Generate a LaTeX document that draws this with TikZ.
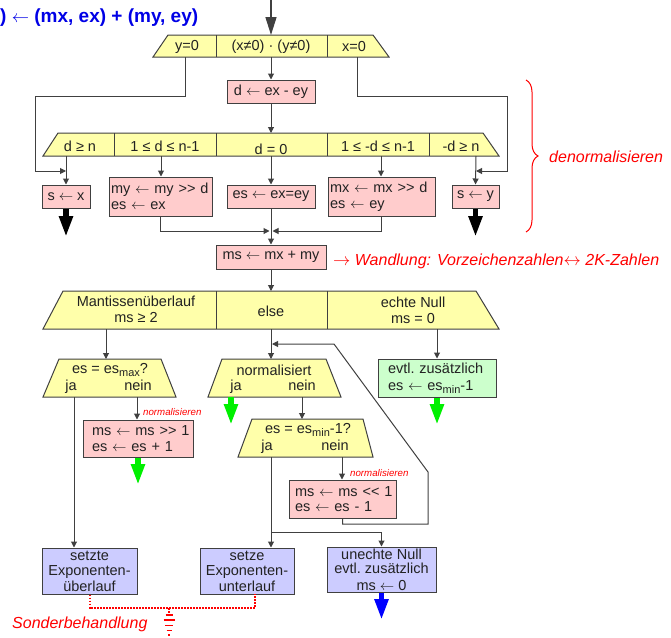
\documentclass[tikz,border=0pt]{standalone}
\usepackage{fontspec}
\setmainfont{Liberation Sans}
\usetikzlibrary{arrows.meta,decorations.pathreplacing}

\definecolor{cellyellow}{RGB}{255,255,170}
\definecolor{boxpink}{RGB}{255,204,204}
\definecolor{boxgreen}{RGB}{204,255,204}
\definecolor{boxblue}{RGB}{204,204,255}
\definecolor{edge}{RGB}{64,64,64}
\definecolor{ink}{RGB}{34,34,34}
\definecolor{notered}{RGB}{255,0,0}
\definecolor{titleblue}{RGB}{0,0,230}
\definecolor{flowgreen}{RGB}{0,240,0}
\definecolor{flowblue}{RGB}{0,0,255}

\newcommand{\boxfont}{\fontsize{14.5}{15.5}\selectfont}
\newcommand{\gtgt}{\mbox{>}\mbox{>}}
\newcommand{\ltlt}{\mbox{<}\mbox{<}}
\newcommand{\lar}{\ensuremath{\leftarrow}}
\newcommand{\rar}{\ensuremath{\rightarrow}}
\newcommand{\lrar}{\ensuremath{\leftrightarrow}}
\newcommand{\subidx}[1]{\raisebox{-3pt}{\fontsize{11}{11}\selectfont #1}}

\begin{document}
\begin{tikzpicture}[x=1pt,y=-1pt,
  conn/.style={draw=edge,line width=1pt},
  arr/.style={conn,-{Triangle[length=6pt,width=6pt]}},
  fat/.style={line width=5.5pt,-{Triangle[length=21pt,width=13pt]}},
  edged/.style={draw=edge,line width=1pt},
  procbox/.style={edged,inner sep=0pt,font=\boxfont,text=ink},
  lbl/.style={inner sep=0pt,font=\boxfont,text=ink,align=center},
  port/.style={lbl,anchor=base},
  note/.style={inner sep=0pt,text=notered,font=\fontsize{16}{16}\selectfont\itshape},
  smallnote/.style={inner sep=0pt,text=notered,font=\fontsize{9.7}{10}\selectfont\itshape},
  sonder/.style={draw=notered,line width=2pt,dash pattern=on 1.6pt off 1.4pt},
]
\useasboundingbox (0,0) rectangle (671,637);

% heading
\node[anchor=west,inner sep=0pt,text=titleblue,font=\fontsize{19}{19}\selectfont\bfseries] (title) at (0,18) {) \lar{} (mx, ex) + (my, ey)};

% entry arrow
\coordinate (start) at (271,0);
\coordinate (r1-in) at (271,35);
\draw[conn,line width=1.5pt,-{Triangle[length=18pt,width=11pt]}] (start) -- (r1-in);

% first case row
\filldraw[fill=cellyellow,edged] (168,35) -- (373,35) -- (389,57) -- (153,57) -- cycle;
\draw[edged] (216,35) -- (216,57) (327,35) -- (327,57);
\node[lbl] (r1a) at (187,47) {y=0};
\node[lbl] (r1b) at (271,47) {(x≠0) · (y≠0)};
\node[lbl] (r1c) at (354,47) {x=0};
\coordinate (r1a-out) at (185,57);
\coordinate (r1b-out) at (271,57);
\coordinate (r1c-out) at (357,57);

\node[procbox,fill=boxpink,minimum width=88pt,minimum height=23pt] (dbox) at (271,91.5) {d \lar{} ex - ey};
\draw[arr] (r1b-out) -- (dbox.north);

% bypasses for x=0 / y=0
\coordinate (jl) at (66,171);
\coordinate (jr) at (476,171);
\draw[arr] (r1a-out) -- (185,96) -- (35,96) -- (35,171) -- (jl);
\draw[arr] (r1c-out) -- (357,96) -- (507,96) -- (507,171) -- (jr);

% second case row
\coordinate (r2-in) at (271,133);
\draw[arr] (dbox.south) -- (r2-in);
\filldraw[fill=cellyellow,edged] (58,133) -- (483,133) -- (499,156) -- (43,156) -- cycle;
\draw[edged] (114,133) -- (114,156) (216,133) -- (216,156) (327,133) -- (327,156) (429,133) -- (429,156);
\node[lbl] (r2a) at (80,146) {d ≥ n};
\node[lbl] (r2b) at (165,146) {1 ≤ d ≤ n-1};
\node[lbl] (r2c) at (271,149) {d = 0};
\node[lbl] (r2d) at (378,146) {1 ≤ -d ≤ n-1};
\node[lbl] (r2e) at (461,146) {-d ≥ n};
\coordinate (r2a-out) at (66,156);
\coordinate (r2b-out) at (161,156);
\coordinate (r2c-out) at (271,156);
\coordinate (r2d-out) at (381,156);
\coordinate (r2e-out) at (476,156);

\node[procbox,fill=boxpink,minimum width=48pt,minimum height=23pt] (sx) at (66,196.5) {s \lar{} x};
\node[procbox,fill=boxpink,minimum width=103pt,minimum height=39pt,text width=99pt,inner xsep=2pt,align=left] (mybox) at (160.5,196.5) {\mbox{my \lar{} my \gtgt{} d}\\\mbox{es \lar{} ex}};
\node[procbox,fill=boxpink,minimum width=88pt,minimum height=23pt] (esbox) at (271,196.5) {es \lar{} ex=ey};
\node[procbox,fill=boxpink,minimum width=107pt,minimum height=39pt,text width=103pt,inner xsep=2pt,align=left] (mxbox) at (381.5,196.5) {\mbox{mx \lar{} mx \gtgt{} d}\\\mbox{es \lar{} ey}};
\node[procbox,fill=boxpink,minimum width=47pt,minimum height=23pt] (sy) at (475.5,196.5) {s \lar{} y};

\draw[arr] (r2a-out) -- (sx.north);
\draw[arr] (r2b-out) -- (r2b-out |- mybox.north);
\draw[arr] (r2c-out) -- (esbox.north);
\draw[arr] (r2d-out) -- (r2d-out |- mxbox.north);
\draw[arr] (r2e-out) -- (sy.north);

\coordinate (sx-end) at (66,237);
\coordinate (sy-end) at (475.5,237);
\draw[fat,draw=black] (sx.south) -- (sx-end);
\draw[fat,draw=black] (sy.south) -- (sy-end);

% brace
\draw[notered,line width=1pt,decorate,decoration={brace,amplitude=12pt}] (526,80) -- (526,232);
\node[note,anchor=west] (denorm) at (549,157) {denormalisieren};

% mantissa addition
\node[procbox,fill=boxpink,minimum width=110pt,minimum height=24pt] (msbox) at (271,257) {ms \lar{} mx + my};
\coordinate (merge) at (271,231);
\draw[arr,shorten >=1.5pt] (mybox.south) |- (merge);
\draw[arr,shorten >=1.5pt] (mxbox.south) |- (merge);
\draw[arr] (esbox.south) -- (msbox.north);
\node[note,anchor=west] (wandlung) at (333,261) {\rar{} Wandlung: Vorzeichenzahlen\lrar{} 2K-Zahlen};

% third case row
\coordinate (r3-in) at (271,291);
\draw[arr] (msbox.south) -- (r3-in);
\filldraw[fill=cellyellow,edged] (63,291) -- (476,291) -- (499,329) -- (43,329) -- cycle;
\draw[edged] (216,291) -- (216,329) (327,291) -- (327,329);
\node[lbl] (r3a) at (136,309.5) {Mantissenüberlauf\\ms ≥ 2};
\node[lbl] (r3b) at (271,311) {else};
\node[lbl] (r3c) at (413,310.5) {echte Null\\ms = 0};
\coordinate (r3a-out) at (106,329);
\coordinate (r3b-out) at (271,329);
\coordinate (r3c-out) at (437,329);

% overflow decision
\filldraw[fill=cellyellow,edged] (59,359) -- (161,359) -- (176,397) -- (43,397) -- cycle;
\node[lbl] (d1q) at (110,369.5) {es = es\subidx{max}?};
\node[port] (d1yes) at (71,390) {ja};
\node[port] (d1no) at (138,390) {nein};
\coordinate (d1-in) at (106,359);
\coordinate (d1-ja) at (74,397);
\coordinate (d1-nein) at (137,397);
\draw[arr] (r3a-out) -- (d1-in);

% normalisation decision
\filldraw[fill=cellyellow,edged] (222,359) -- (326,359) -- (341,397) -- (208,397) -- cycle;
\node[lbl] (d2q) at (274,370) {normalisiert};
\node[port] (d2yes) at (236,390) {ja};
\node[port] (d2no) at (302,390) {nein};
\coordinate (d2-in) at (271,359);
\coordinate (fb) at (271,344);
\coordinate (d2-ja) at (231,397);
\coordinate (d2-nein) at (302,397);
\draw[arr] (r3b-out) -- (d2-in);

% true zero
\node[procbox,fill=boxgreen,minimum width=118pt,minimum height=38pt,text width=98pt,inner xsep=10pt,align=left] (zbox) at (437,378) {\mbox{evtl.\ zusätzlich}\\[1.5pt]\mbox{es \lar{} es\subidx{min}-1}};
\draw[arr] (r3c-out) -- (zbox.north);

% right shift
\node[procbox,fill=boxpink,minimum width=110pt,minimum height=37pt,text width=92pt,inner xsep=9pt,align=left] (p1) at (138,438.5) {\mbox{ms \lar{} ms \gtgt{} 1}\\\mbox{es \lar{} es + 1}};
\draw[arr] (d1-nein) -- (d1-nein |- p1.north);
\node[smallnote,anchor=west] (nrm1) at (143,412) {normalisieren};

% underflow decision
\filldraw[fill=cellyellow,edged] (252,419) -- (363,419) -- (373,457) -- (238,457) -- cycle;
\node[lbl] (d3q) at (308,429.5) {es = es\subidx{min}-1?};
\node[port] (d3yes) at (267,450) {ja};
\node[port] (d3no) at (335,450) {nein};
\coordinate (d3-in) at (302,419);
\coordinate (d3-ja) at (271,457);
\coordinate (d3-nein) at (342,457);
\draw[arr] (d2-nein) -- (d3-in);

% left shift and loop back
\node[procbox,fill=boxpink,minimum width=107pt,minimum height=38pt,text width=95pt,inner xsep=6pt,align=left] (p2) at (342.5,499) {\mbox{ms \lar{} ms \ltlt{} 1}\\\mbox{es \lar{} es - 1}};
\draw[arr] (d3-nein) -- (d3-nein |- p2.north);
\node[smallnote,anchor=west] (nrm2) at (350,473) {normalisieren};
\draw[arr,shorten >=1pt] (p2.south) -- (342.5,524) -- (428,524) -- (428,472) -- (334,344) -- (fb);

% final states
\node[procbox,fill=boxblue,minimum width=95pt,minimum height=46pt,align=center] (ueber) at (89.5,571) {setzte\\Exponenten-\\überlauf};
\node[procbox,fill=boxblue,minimum width=94pt,minimum height=46pt,align=center] (unter) at (247,571) {setze\\Exponenten-\\unterlauf};
\node[procbox,fill=boxblue,minimum width=109pt,minimum height=45pt,align=center,font=\fontsize{14.5}{14.5}\selectfont] (unecht) at (381.5,569.5) {unechte Null\\evtl.\ zusätzlich\\[2pt]ms \lar{} 0};
\draw[arr] (d1-ja) -- (d1-ja |- ueber.north);
\draw[arr] (d3-ja) -- (d3-ja |- unter.north);
\coordinate (split) at (271,532);
\draw[arr] (split) -| (unecht.north);

% exits
\coordinate (g1) at (138,485);
\coordinate (g2) at (231,425);
\coordinate (g3) at (437,425);
\coordinate (b1) at (381.5,620);
\draw[fat,draw=flowgreen] (p1.south) -- (g1);
\draw[fat,draw=flowgreen] (d2-ja) -- (g2);
\draw[fat,draw=flowgreen] (zbox.south) -- (g3);
\draw[fat,draw=flowblue] (unecht.south) -- (b1);

% special handling
\coordinate (sb-l) at (89.5,608);
\coordinate (sb-r) at (255,608);
\coordinate (unter-out) at (255,594);
\coordinate (gnd) at (169,608);
\draw[sonder] (ueber.south) -- (sb-l) -- (sb-r) -- (unter-out);
\draw[sonder] (gnd) -- (169,613);
\draw[notered,line width=1.6pt] (165.5,615) -- (172.5,615) (163.5,620) -- (174.5,620) (165,625.5) -- (173,625.5) (166.5,630.5) -- (171.5,630.5) (168.2,635) -- (169.8,635);
\node[note,anchor=west] (sonderlbl) at (12,624) {Sonderbehandlung};
\end{tikzpicture}
\end{document}
